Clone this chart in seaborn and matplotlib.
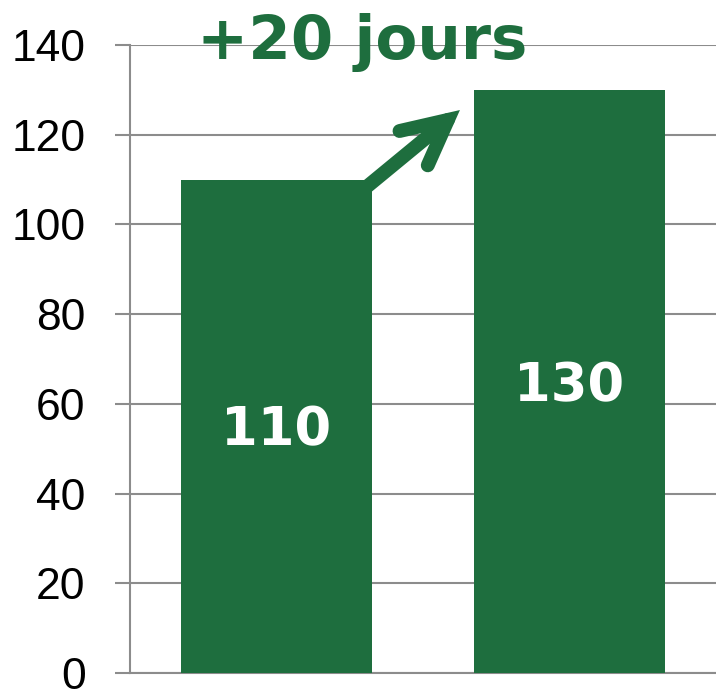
import matplotlib
matplotlib.use("Agg")
import matplotlib.pyplot as plt
import seaborn as sns

# data
categories = ["Avant", "Après"]
values = [110, 130]
bar_labels = ["110", "130"]
gain_label = "+20 jours"
y_ticks = [0, 20, 40, 60, 80, 100, 120, 140]

green = "#1e6e3e"
grid_grey = "#8c8c8c"

sns.set_style("white")
plt.rcParams["font.family"] = ["DejaVu Sans"]

fig = plt.figure(figsize=(7.16, 6.89), dpi=100)
ax = fig.add_axes([0.1816, 0.0232, 0.8184, 0.9115])

sns.barplot(x=categories, y=values, color=green, saturation=1, width=0.65,
            linewidth=0, ax=ax, zorder=3)

ax.set_ylim(0, 140)
ax.set_xlim(-0.5, 1.5)
ax.set_yticks(y_ticks)
ax.set_xticks([])
ax.set_xlabel("")
ax.set_ylabel("")
ax.yaxis.grid(True, color=grid_grey, linewidth=1.5, zorder=0)
ax.set_axisbelow(True)
ax.tick_params(axis="y", left=True, direction="out", length=11, width=1.5,
               color=grid_grey, pad=21, labelsize=32, labelcolor="black")
for t in ax.get_yticklabels():
    t.set_fontfamily("Liberation Sans")
for side in ["top", "right"]:
    ax.spines[side].set_visible(False)
for side in ["left", "bottom"]:
    ax.spines[side].set_color(grid_grey)
    ax.spines[side].set_linewidth(1.5)

# values inside bars
for i, (v, lab) in enumerate(zip(values, bar_labels)):
    ax.text(i, v / 2 - 1, lab, ha="center", va="center", color="white",
            fontsize=38, fontweight="bold", zorder=4)

# arrow from first bar to second
ax.annotate("", xy=(0.626, 125.5), xytext=(0.31, 108.5),
            arrowprops=dict(arrowstyle="->,head_length=3.2,head_width=1.6", color=green,
                            lw=10, capstyle="round", joinstyle="miter",
                            shrinkA=0, shrinkB=0),
            zorder=5, annotation_clip=False)

ax.text(0.292, 140.5, gain_label, ha="center", va="center", color=green,
        fontsize=44, fontweight="bold", clip_on=False, zorder=5)

fig.savefig("out.png", dpi=100)
